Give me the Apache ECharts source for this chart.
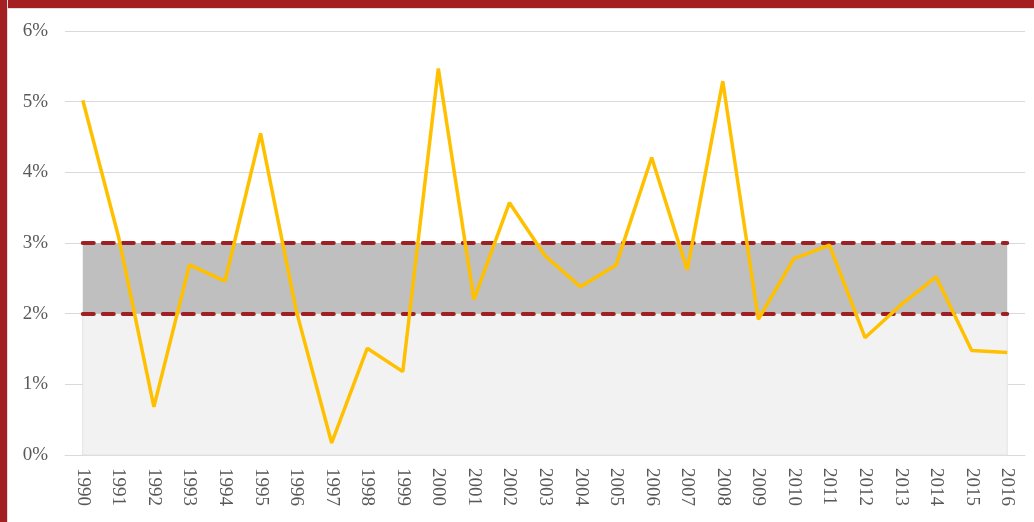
<!DOCTYPE html>
<html lang="en">
<head>
    <meta charset="UTF-8">
    <title>Inflation 1990-2016</title>
    <style>
        body{
            margin: 0;
            background: #fff;
        }
        #chart{
            position: absolute;
            left: 0;
            top: 0;
            width: 1034px;
            height: 522px;
        }
        .bar-top{
            position: absolute; left: 0; top: 0; width: 1034px; height: 8px;
            background: #a31f22; border-bottom: 1px solid #dcdcdc;
        }
        .bar-left{
            position: absolute; left: 0; top: 0; width: 7px; height: 522px;
            background: #a31f22; border-right: 1px solid #dcdcdc;
        }
    </style>
</head>
<body>
    <div id="chart"></div>
    <div class="bar-top"></div>
    <div class="bar-left"></div>
    <script src="https://cdn.jsdelivr.net/npm/echarts@6/dist/echarts.min.js"></script>
    <script>
        // 年份
        var years = ['1990','1991','1992','1993','1994','1995','1996','1997','1998','1999',
            '2000','2001','2002','2003','2004','2005','2006','2007','2008','2009',
            '2010','2011','2012','2013','2014','2015','2016'];
        // 通胀率 (%)
        var rates = [5.02, 3.1, 0.68, 2.69, 2.46, 4.55, 2.05, 0.17, 1.51, 1.18,
            5.47, 2.2, 3.57, 2.82, 2.38, 2.69, 4.21, 2.62, 5.29, 1.92,
            2.78, 2.97, 1.66, 2.12, 2.52, 1.48, 1.45];
        // 目标区间
        var bandLow = 2;
        var bandHigh = 3;
        var yTicks = [0, 6, 1]; // min, max, interval

        var myecharts = echarts.init(document.getElementById('chart'));
        var first = years[0];
        var last = years[years.length - 1];
        var dash = {color: '#a01f23', width: 4, type: [11, 9], cap: 'round'};

        var option = {
            animation: false,
            grid: {left: 65, right: 9, top: 31, bottom: 67},
            xAxis: {
                type: 'category',
                data: years,
                boundaryGap: true,
                axisLine: {lineStyle: {color: '#d9d9d9'}},
                axisTick: {show: false},
                axisLabel: {
                    rotate: -90,
                    margin: 13,
                    color: '#595959',
                    fontFamily: 'Liberation Serif',
                    fontSize: 19
                }
            },
            yAxis: {
                type: 'value',
                min: yTicks[0],
                max: yTicks[1],
                interval: yTicks[2],
                axisLine: {show: false},
                axisTick: {show: false},
                splitLine: {lineStyle: {color: '#d9d9d9'}},
                axisLabel: {
                    formatter: '{value}%',
                    margin: 17,
                    color: '#595959',
                    fontFamily: 'Liberation Serif',
                    fontSize: 19
                }
            },
            series: [
                {
                    // 背景区间和虚线
                    type: 'line',
                    data: [],
                    z: 1,
                    markArea: {
                        silent: true,
                        data: [
                            [{xAxis: first, yAxis: 0, itemStyle: {color: '#f2f2f2', borderColor: '#e3e3e3', borderWidth: 1}},
                             {xAxis: last, yAxis: bandLow}],
                            [{xAxis: first, yAxis: bandLow, itemStyle: {color: '#bfbfbf'}},
                             {xAxis: last, yAxis: bandHigh}]
                        ]
                    },
                    markLine: {
                        silent: true,
                        symbol: 'none',
                        label: {show: false},
                        lineStyle: dash,
                        data: [
                            [{coord: [first, bandHigh]}, {coord: [last, bandHigh]}],
                            [{coord: [first, bandLow]}, {coord: [last, bandLow]}]
                        ]
                    }
                },
                {
                    type: 'line',
                    data: rates,
                    z: 5,
                    symbol: 'none',
                    lineStyle: {color: '#ffc000', width: 3.5}
                }
            ]
        };
        myecharts.setOption(option);
    </script>
</body>
</html>
